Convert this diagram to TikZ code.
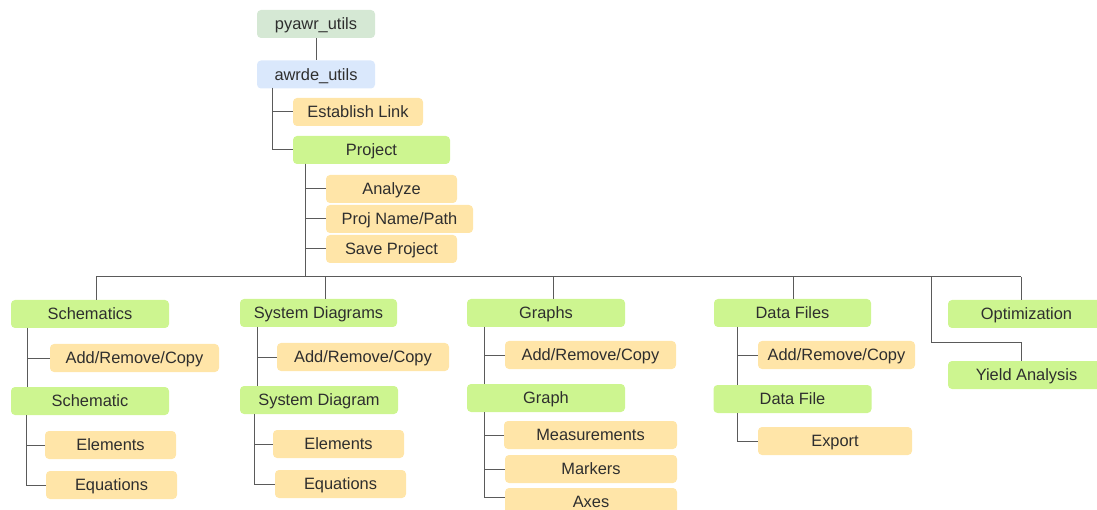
\documentclass[tikz,border=0pt]{standalone}
\usepackage{fontspec}
\setmainfont{Liberation Sans}
\usetikzlibrary{positioning}
\definecolor{rootfill}{HTML}{D5E8D4}
\definecolor{libfill}{HTML}{DAE8FC}
\definecolor{groupfill}{HTML}{CDF590}
\definecolor{actfill}{HTML}{FFE5A8}
\definecolor{wire}{HTML}{5A5A5A}
\definecolor{ink}{HTML}{2E2E2E}
\tikzset{
  box/.style={rounded corners=4pt, minimum height=28pt, inner sep=0pt,
    text height=11.7pt, text depth=0pt,
    text=ink, font=\fontsize{16.4}{19}\selectfont},
  rootbox/.style={box, fill=rootfill},
  libbox/.style={box, fill=libfill},
  groupbox/.style={box, fill=groupfill},
  actbox/.style={box, fill=actfill},
  link/.style={draw=wire, line width=1pt},
}

\begin{document}
\begin{tikzpicture}[x=1pt,y=-1pt]
  \useasboundingbox (0,0) rectangle (1097,510);
  % top of the tree
  \node[rootbox, minimum width=118pt] (pyawr) at (316,24) {pyawr\_utils};
  \node[libbox, minimum width=118pt] (awrde) at (316,74.5) {awrde\_utils};
  \node[actbox, minimum width=130pt] (estlink) at (358,112) {Establish Link};
  \node[groupbox, minimum width=157pt] (project) at (371.5,150) {Project};
  \node[actbox, minimum width=131pt] (analyze) at (391.5,189) {Analyze};
  \node[actbox, minimum width=147pt] (projname) at (399.5,219) {Proj Name/Path};
  \node[actbox, minimum width=131pt] (saveproj) at (391.5,249) {Save Project};
  % second row
  \node[groupbox, minimum width=158pt] (schems) at (90,314) {Schematics};
  \node[groupbox, minimum width=157pt] (sdiags) at (318.5,313) {System Diagrams};
  \node[groupbox, minimum width=158pt] (graphs) at (546,313) {Graphs};
  \node[groupbox, minimum width=157pt] (dfiles) at (792.5,313) {Data Files};
  \node[groupbox, minimum width=157pt] (optim) at (1026.5,314) {Optimization};
  \node[groupbox, minimum width=157pt] (yield) at (1026.5,375) {Yield Analysis};
  % schematics
  \node[actbox, minimum width=169pt] (schaddr) at (134.5,358) {Add/Remove/Copy};
  \node[groupbox, minimum width=158pt] (schem) at (90,401) {Schematic};
  \node[actbox, minimum width=131pt] (schelem) at (110.5,445) {Elements};
  \node[actbox, minimum width=131pt] (scheq) at (111.5,485) {Equations};
  % system diagrams
  \node[actbox, minimum width=172pt] (sdaddr) at (363,357) {Add/Remove/Copy};
  \node[groupbox, minimum width=158pt] (sdiag) at (319,400) {System Diagram};
  \node[actbox, minimum width=131pt] (sdelem) at (338.5,444) {Elements};
  \node[actbox, minimum width=131pt] (sdeq) at (340.5,484) {Equations};
  % graphs
  \node[actbox, minimum width=171pt] (gaddr) at (590.5,355) {Add/Remove/Copy};
  \node[groupbox, minimum width=158pt] (graph) at (546,398) {Graph};
  \node[actbox, minimum width=173pt] (gmeas) at (590.5,435) {Measurements};
  \node[actbox, minimum width=172pt] (gmark) at (591,469) {Markers};
  \node[actbox, minimum width=172pt] (gaxes) at (591,502) {Axes};
  % data files
  \node[actbox, minimum width=157pt] (daddr) at (836.5,355) {Add/Remove/Copy};
  \node[groupbox, minimum width=158pt] (dfile) at (792.5,399) {Data File};
  \node[actbox, minimum width=154pt] (dexport) at (835,441) {Export};

  % trunk points
  \coordinate (tA) at (272,88);
  \coordinate (tP) at (305,164);
  \coordinate (bus) at (305,277);
  \coordinate (d1) at (96,277);
  \coordinate (d2) at (325,277);
  \coordinate (d3) at (553,277);
  \coordinate (d4) at (793,277);
  \coordinate (d5) at (931,277);
  \coordinate (d6) at (1021,277);
  \coordinate (bend) at (931,343);
  \coordinate (tS) at (27,328);
  \coordinate (tSs) at (26,415);
  \coordinate (tD) at (257,327);
  \coordinate (tDs) at (254,414);
  \coordinate (tG) at (484,327);
  \coordinate (tGs) at (484,412);
  \coordinate (tF) at (737,327);
  \coordinate (tFs) at (737,413);

  % connectors
  \draw[link] (pyawr) -- (awrde);
  \draw[link] (tA) |- (estlink.west);
  \draw[link] (tA) |- (project.west);
  \draw[link] (tP) |- (analyze.west);
  \draw[link] (tP) |- (projname.west);
  \draw[link] (tP) |- (saveproj.west);
  \draw[link] (tP) -- (bus);
  \draw[link] (d1) -- (d6);
  \draw[link] (d1) -- (d1 |- schems.north);
  \draw[link] (d2) -- (d2 |- sdiags.north);
  \draw[link] (d3) -- (d3 |- graphs.north);
  \draw[link] (d4) -- (d4 |- dfiles.north);
  \draw[link] (d6) -- (d6 |- optim.north);
  \draw[link] (d5) -- (bend) -| (yield.north -| d6);
  \draw[link] (tS) -- (tS |- schem.north);
  \draw[link] (tS) |- (schaddr.west);
  \draw[link] (tSs) |- (schelem.west);
  \draw[link] (tSs) |- (scheq.west);
  \draw[link] (tD) -- (tD |- sdiag.north);
  \draw[link] (tD) |- (sdaddr.west);
  \draw[link] (tDs) |- (sdelem.west);
  \draw[link] (tDs) |- (sdeq.west);
  \draw[link] (tG) -- (tG |- graph.north);
  \draw[link] (tG) |- (gaddr.west);
  \draw[link] (tGs) |- (gmeas.west);
  \draw[link] (tGs) |- (gmark.west);
  \draw[link] (tGs) |- ([yshift=5pt]gaxes.west);
  \draw[link] (tF) -- (tF |- dfile.north);
  \draw[link] (tF) |- (daddr.west);
  \draw[link] (tFs) |- (dexport.west);
\end{tikzpicture}
\end{document}
